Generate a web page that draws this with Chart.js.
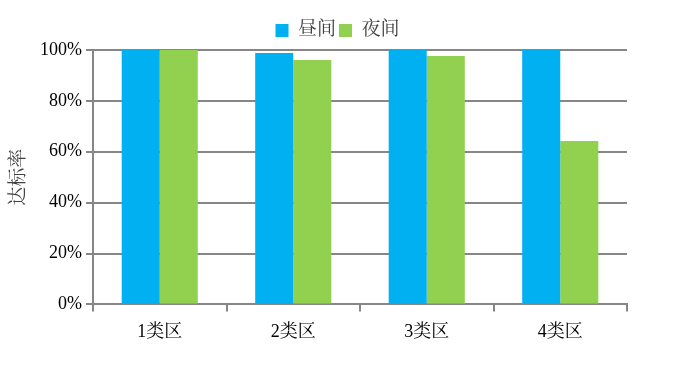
<!DOCTYPE html>
<html>
<head>
<meta charset="utf-8">
<script src="https://cdn.jsdelivr.net/npm/chart.js@4/dist/chart.umd.min.js"></script>
<style>
  html, body { margin: 0; padding: 0; background: #fff; }
  #wrap { width: 675px; height: 377px; }
</style>
</head>
<body>
<div id="wrap"><canvas id="rateChart" width="675" height="377"></canvas></div>
<script>
// 各类功能区昼间/夜间达标率 (%)
const categories = ['1类区', '2类区', '3类区', '4类区'];
const seriesNames = ['昼间', '夜间'];
const dayValues = [100, 98.8, 100, 100];
const nightValues = [100, 96.1, 97.6, 64.2];
const yTicks = [0, 20, 40, 60, 80, 100];

const serif = "'Liberation Serif', 'Noto Serif CJK SC', 'Noto Sans CJK SC', serif";
const axisGray = '#868686';

const ctx = document.getElementById('rateChart').getContext('2d');
new Chart(ctx, {
    type: 'bar',
    data: {
        labels: categories,
        datasets: [{
            label: seriesNames[0],
            data: dayValues,
            backgroundColor: '#00B0F0',
            barPercentage: 1.0,
            categoryPercentage: 0.57
        }, {
            label: seriesNames[1],
            data: nightValues,
            backgroundColor: '#92D050',
            barPercentage: 1.0,
            categoryPercentage: 0.57
        }]
    },
    options: {
        responsive: false,
        animation: false,
        layout: { padding: { top: 18, right: 0, bottom: 24, left: 0 } },
        plugins: {
            tooltip: { enabled: false },
            legend: {
                position: 'top',
                labels: {
                    boxWidth: 13,
                    boxHeight: 13,
                    padding: 3,
                    color: '#404040',
                    font: { family: serif, size: 19 }
                }
            }
        },
        scales: {
            x: {
                grid: {
                    offset: true,
                    drawOnChartArea: false,
                    drawTicks: true,
                    tickLength: 7,
                    color: axisGray,
                    lineWidth: 2
                },
                border: { color: axisGray, width: 2 },
                ticks: { color: '#000', font: { family: serif, size: 18 }, padding: 10 }
            },
            y: {
                min: 0,
                max: 100,
                afterFit: s => { s.width = 93; },
                afterBuildTicks: s => { s.ticks = yTicks.map(v => ({ value: v })); },
                grid: { color: axisGray, lineWidth: 2, tickLength: 7 },
                border: { color: axisGray, width: 2 },
                ticks: {
                    color: '#000',
                    padding: 4,
                    font: { family: serif, size: 18 },
                    callback: v => v + '%'
                },
                title: {
                    display: true,
                    text: '达标率',
                    color: '#404040',
                    padding: { top: 8, bottom: 0 },
                    font: { family: serif, size: 19 }
                }
            },
            // 右侧留白，让图例按整张画布居中
            spacer: {
                type: 'linear',
                position: 'right',
                grid: { display: false, drawTicks: false },
                border: { display: false },
                ticks: { display: false },
                afterFit: s => { s.width = 48; }
            }
        }
    }
});
</script>
</body>
</html>
